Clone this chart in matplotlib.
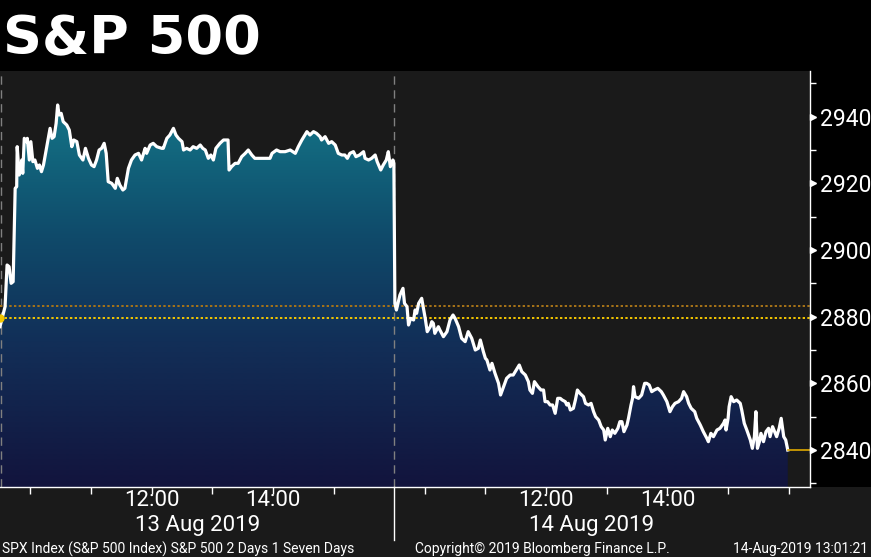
import numpy as np
import matplotlib
matplotlib.use("Agg")
import matplotlib.pyplot as plt
from matplotlib.colors import LinearSegmentedColormap
from matplotlib.patches import Rectangle
from matplotlib.transforms import blended_transform_factory, offset_copy

# ---------------- data ----------------
# minutes after the 09:30 open, per session
day1_minutes = [0, 5, 7, 9, 11, 13, 15, 16.5, 17, 19,
                20.5, 21.5, 22.5, 24, 26, 27, 29, 30.5, 32.5, 34.5,
                37, 39, 41, 43, 46, 49.5, 51.5, 53.5, 55.5, 57,
                58.5, 60.5, 62.5, 66, 68.5, 71, 73, 76, 78.5, 82,
                84.5, 87.5, 90.5, 93, 95.5, 98, 100.5, 103, 105, 107,
                110.5, 114, 116, 118.5, 121.5, 123.5, 127, 130, 133.5, 137,
                140, 143.5, 145, 148.5, 151.5, 155, 160, 161.5, 165, 168,
                171.5, 174, 176.5, 180, 181.5, 184.5, 188, 191, 194.5, 198,
                200.5, 203, 206, 208.5, 211, 213.5, 217.5, 221, 224, 225.5,
                226.5, 229, 232.5, 235.5, 239, 242.5, 245.5, 249, 252, 267,
                269, 273.5, 277, 282, 287, 292, 295, 298.5, 301.5, 303.5,
                306.5, 310, 313, 316.5, 318, 321.5, 325, 328, 331.5, 334.5,
                338, 341, 343.5, 346, 349.5, 352, 355.5, 359.5, 361, 364.5,
                367.5, 371, 373, 376.5, 379, 382, 384, 386, 388.5, 389.5]
day1_prices = [2877, 2883, 2895.5, 2895, 2890, 2890.5, 2918.5, 2919, 2931, 2922.5,
               2924.5, 2927, 2923, 2933.5, 2932.5, 2933.5, 2927, 2932.5, 2926.5, 2927,
               2924.5, 2925.5, 2923.5, 2925.5, 2930.5, 2936.5, 2933.5, 2934, 2938, 2943.5,
               2940.5, 2941, 2938.5, 2937.5, 2936, 2931, 2933, 2932.5, 2928.5, 2927,
               2930.5, 2927.5, 2925.5, 2925, 2927, 2930, 2930.5, 2932, 2929, 2920.5,
               2920, 2918.5, 2921.5, 2919.5, 2918, 2918.5, 2924.5, 2927, 2928.5, 2929,
               2927, 2930.5, 2929, 2931.5, 2932, 2931, 2930.5, 2930.5, 2933.5, 2934.5,
               2936.5, 2934.5, 2933.5, 2932.5, 2930, 2930.5, 2930, 2931, 2930.5, 2931.5,
               2930.5, 2930, 2927.5, 2928.5, 2927, 2930.5, 2932, 2933, 2933, 2933,
               2924, 2925, 2926, 2926, 2928, 2929, 2930, 2928.5, 2927.5, 2927.5,
               2929, 2930, 2929.5, 2929.5, 2930, 2929, 2931, 2933, 2934.5, 2935.5,
               2934.5, 2935.5, 2935, 2934, 2933, 2934, 2932, 2932.5, 2931.5, 2929,
               2928.5, 2928.5, 2927.5, 2929, 2929.5, 2928, 2928.5, 2929.5, 2927.5, 2927,
               2927.5, 2928.5, 2926.5, 2924, 2925.5, 2927, 2929.5, 2925, 2927, 2926]

day2_minutes = [0.5, 2, 4, 5.5, 8.5, 10, 12.5, 14, 16, 19,
                20.5, 22, 24, 27, 28.5, 30.5, 32.5, 35.5, 37, 38.5,
                40, 43.5, 45, 48.5, 52, 55, 58, 60, 63.5, 66.5,
                70, 73, 76.5, 80, 83, 85, 88, 90, 91.5, 94.5,
                96.5, 99.5, 103, 105, 108, 111, 114.5, 117.5, 120.5, 123.5,
                126, 129.5, 132.5, 134, 136.5, 138.5, 142, 145, 147.5, 149,
                151.5, 154, 156.5, 159, 161.5, 164, 166, 169, 170.5, 172,
                174, 177, 179, 181, 183.5, 187, 189, 192, 194.5, 197,
                199, 202, 204.5, 207, 208.5, 211, 213.5, 215.5, 218, 221,
                223, 225, 227, 230, 231.5, 234, 235.5, 236.5, 238, 241.5,
                244.5, 247.5, 249.5, 252, 254.5, 257, 260.5, 264, 266, 269.5,
                272.5, 275, 277.5, 281, 284, 286, 289, 291, 293.5, 297,
                299, 302.5, 305.5, 309, 310.5, 313, 315.5, 319, 322, 325.5,
                327, 328, 330, 331, 333, 335.5, 338.5, 342, 343.5, 346,
                348.5, 352, 354, 356, 357.5, 359, 361, 362.5, 365, 367.5,
                370, 371.5, 374, 376, 378, 380.5, 382.5, 385, 387, 389]
day2_prices = [2884, 2882, 2884.5, 2886.5, 2888.5, 2884, 2883, 2877.5, 2879.5, 2879,
               2882, 2881, 2884, 2885.5, 2883, 2879.5, 2875.5, 2877, 2878.5, 2878,
               2875, 2877, 2876, 2874, 2875.5, 2879, 2880.5, 2879.5, 2877, 2873.5,
               2872.5, 2875.5, 2873.5, 2870, 2870.5, 2873, 2869.5, 2867.5, 2867, 2864,
               2866, 2863, 2860, 2856.5, 2859, 2861.5, 2862.5, 2862.5, 2864, 2865.5,
               2863.5, 2862.5, 2860.5, 2858, 2857, 2860.5, 2859, 2858, 2858, 2854.5,
               2854.5, 2853.5, 2853.5, 2851, 2855.5, 2855.5, 2855, 2854.5, 2853.5, 2854,
               2852, 2852.5, 2855, 2858, 2857, 2856, 2854, 2853.5, 2854, 2851.5,
               2850, 2849, 2847, 2846, 2843, 2846.5, 2844, 2846, 2845, 2846.5,
               2848.5, 2848.5, 2845.5, 2847.5, 2849.5, 2853.5, 2855.5, 2859, 2856, 2855.5,
               2856.5, 2860, 2860, 2859.5, 2857.5, 2858, 2858.5, 2857.5, 2856.5, 2854.5,
               2851.5, 2853, 2854, 2854.5, 2855.5, 2857.5, 2856, 2854, 2852.5, 2851.5,
               2849.5, 2847.5, 2845.5, 2843.5, 2842.5, 2845, 2844, 2846, 2846.5, 2848,
               2849, 2846, 2849.5, 2853, 2856, 2854.5, 2855, 2854, 2852, 2848,
               2846, 2843, 2840.5, 2844, 2851.5, 2840.5, 2842.5, 2845, 2842.5, 2845.5,
               2846.5, 2844, 2847, 2845.5, 2844, 2846.5, 2849.5, 2844, 2843, 2840]

day_labels = ["13 Aug 2019", "14 Aug 2019"]
time_tick_minutes = [150, 270]          # 12:00, 14:00
time_tick_labels = ["12:00", "14:00"]
hour_tick_minutes = [30, 90, 150, 210, 270, 330]
session_length = 390
y_major = [2840, 2860, 2880, 2900, 2920, 2940]
y_minor = [2830, 2850, 2870, 2890, 2910, 2930, 2950]
prev_close = 2879.7
ref_level = 2883.3
last_price = 2840

title = "S&P 500"
footer_left = "SPX Index (S&P 500 Index) S&P 500 2 Days 1 Seven Days"
footer_mid = "Copyright\u00a9 2019 Bloomberg Finance L.P."
footer_right = "14-Aug-2019 13:01:21"

# ---------------- figure ----------------
W, H = 871, 557
FONT = ["Roboto", "DejaVu Sans"]
fig = plt.figure(figsize=(W / 100, H / 100), dpi=100, facecolor="black")
fig.patches.append(Rectangle((0, 0), 1, (H - 487) / H, transform=fig.transFigure,
                             facecolor="#1a1a1a", edgecolor="none", zorder=-1))

ax_left, ax_right, ax_top, ax_bot = 0, 810, 71, 487
ax = fig.add_axes([ax_left / W, 1 - ax_bot / H, (ax_right - ax_left) / W, (ax_bot - ax_top) / H])
ax.set_facecolor("#1a1a1a")

t = np.concatenate([np.array(day1_minutes, float), np.array(day2_minutes, float) + session_length])
p = np.concatenate([np.array(day1_prices, float), np.array(day2_prices, float)])

ylo, yhi = 2828.9, 2953.7
xhi = 801

cmap = LinearSegmentedColormap.from_list(
    "g", [(0, "#12143d"), (0.35, "#122f58"), (0.6, "#0f4a6a"), (1, "#15808f")])
grad = np.linspace(0, 1, 256).reshape(-1, 1)
im = ax.imshow(grad, extent=[0, xhi, ylo, yhi], origin="lower", aspect="auto",
               cmap=cmap, zorder=1, interpolation="bilinear")
poly = ax.fill_between(t, p, ylo, facecolor="none", edgecolor="none")
im.set_clip_path(poly.get_paths()[0], transform=ax.transData)

# session separators
for xv in [1, session_length]:
    ax.axvline(xv, color="#808080", lw=1.0, linestyle=(0, (6, 4)), zorder=2)

# reference dotted lines
ax.axhline(ref_level, color="#a87418", lw=1.4, linestyle=(0, (1.2, 1.2)), zorder=2)
ax.axhline(prev_close, color="#f2c500", lw=1.4, linestyle=(0, (1.2, 1.2)), zorder=2)
ax.plot([0], [prev_close], marker="o", ms=5, color="#f2c500", clip_on=False, zorder=4)

# price line
ax.plot(t, p, color="white", lw=2.3, zorder=3, solid_joinstyle="round")
ax.plot([t[-1], xhi], [last_price, last_price], color="#e0aa00", lw=1.2, zorder=3)

ax.set_xlim(0, xhi)
ax.set_ylim(ylo, yhi)

# spines
for s in ["top", "left"]:
    ax.spines[s].set_visible(False)
for s in ["right", "bottom"]:
    ax.spines[s].set_color("white")
    ax.spines[s].set_linewidth(1.0)
    ax.spines[s].set_zorder(5)

# y axis
ax.yaxis.tick_right()
ax.set_yticks(y_major)
ax.set_yticklabels([str(v) for v in y_major])
ax.set_yticks(y_minor, minor=True)
ax.tick_params(axis="y", which="major", length=0, pad=7.5, labelcolor="white", labelsize=16.5)
ax.tick_params(axis="y", which="minor", length=4, width=1, color="white", direction="out")
for lab in ax.get_yticklabels():
    lab.set_family(FONT)
tri_tr = offset_copy(blended_transform_factory(ax.transAxes, ax.transData), fig=fig, x=3, y=0, units="dots")
ax.plot([1.0] * len(y_major), y_major, ls="none", marker=">", ms=5, color="white",
        transform=tri_tr, clip_on=False, zorder=6)

# x axis
all_hours = hour_tick_minutes + [m + session_length for m in hour_tick_minutes] + [2 * session_length]
ax.set_xticks(all_hours)
ax.set_xticklabels([""] * len(all_hours))
ax.tick_params(axis="x", which="major", length=5, width=1, color="white", direction="out")

bx = blended_transform_factory(ax.transData, ax.transAxes)
hpx = ax_bot - ax_top
ax.plot([session_length, session_length], [0, -(540 - ax_bot) / hpx], color="white", lw=1,
        transform=bx, clip_on=False, zorder=6)
for d in range(2):
    off = d * session_length
    for m, lab in zip(time_tick_minutes, time_tick_labels):
        ax.text(m + off, -(500 - ax_bot) / hpx, lab, transform=bx, ha="center", va="center",
                color="white", fontsize=16, family=FONT)
    ax.text(off + session_length / 2, -(525 - ax_bot) / hpx, day_labels[d], transform=bx,
            ha="center", va="center", color="white", fontsize=16, family=FONT)

# title & footer
fig.text(3 / W, 1 - 54 / H, title, color="white", fontsize=39, fontweight="bold",
         family="DejaVu Sans", ha="left", va="baseline")
fy = 1 - 549 / H
fig.text(2 / W, fy, footer_left, color="white", fontsize=10, family=FONT, ha="left", va="center")
fig.text(542 / W, fy, footer_mid, color="white", fontsize=10, family=FONT, ha="center", va="center")
fig.text(868 / W, fy, footer_right, color="white", fontsize=10, family=FONT, ha="right", va="center")

fig.savefig("out.png", dpi=100, facecolor="black")
